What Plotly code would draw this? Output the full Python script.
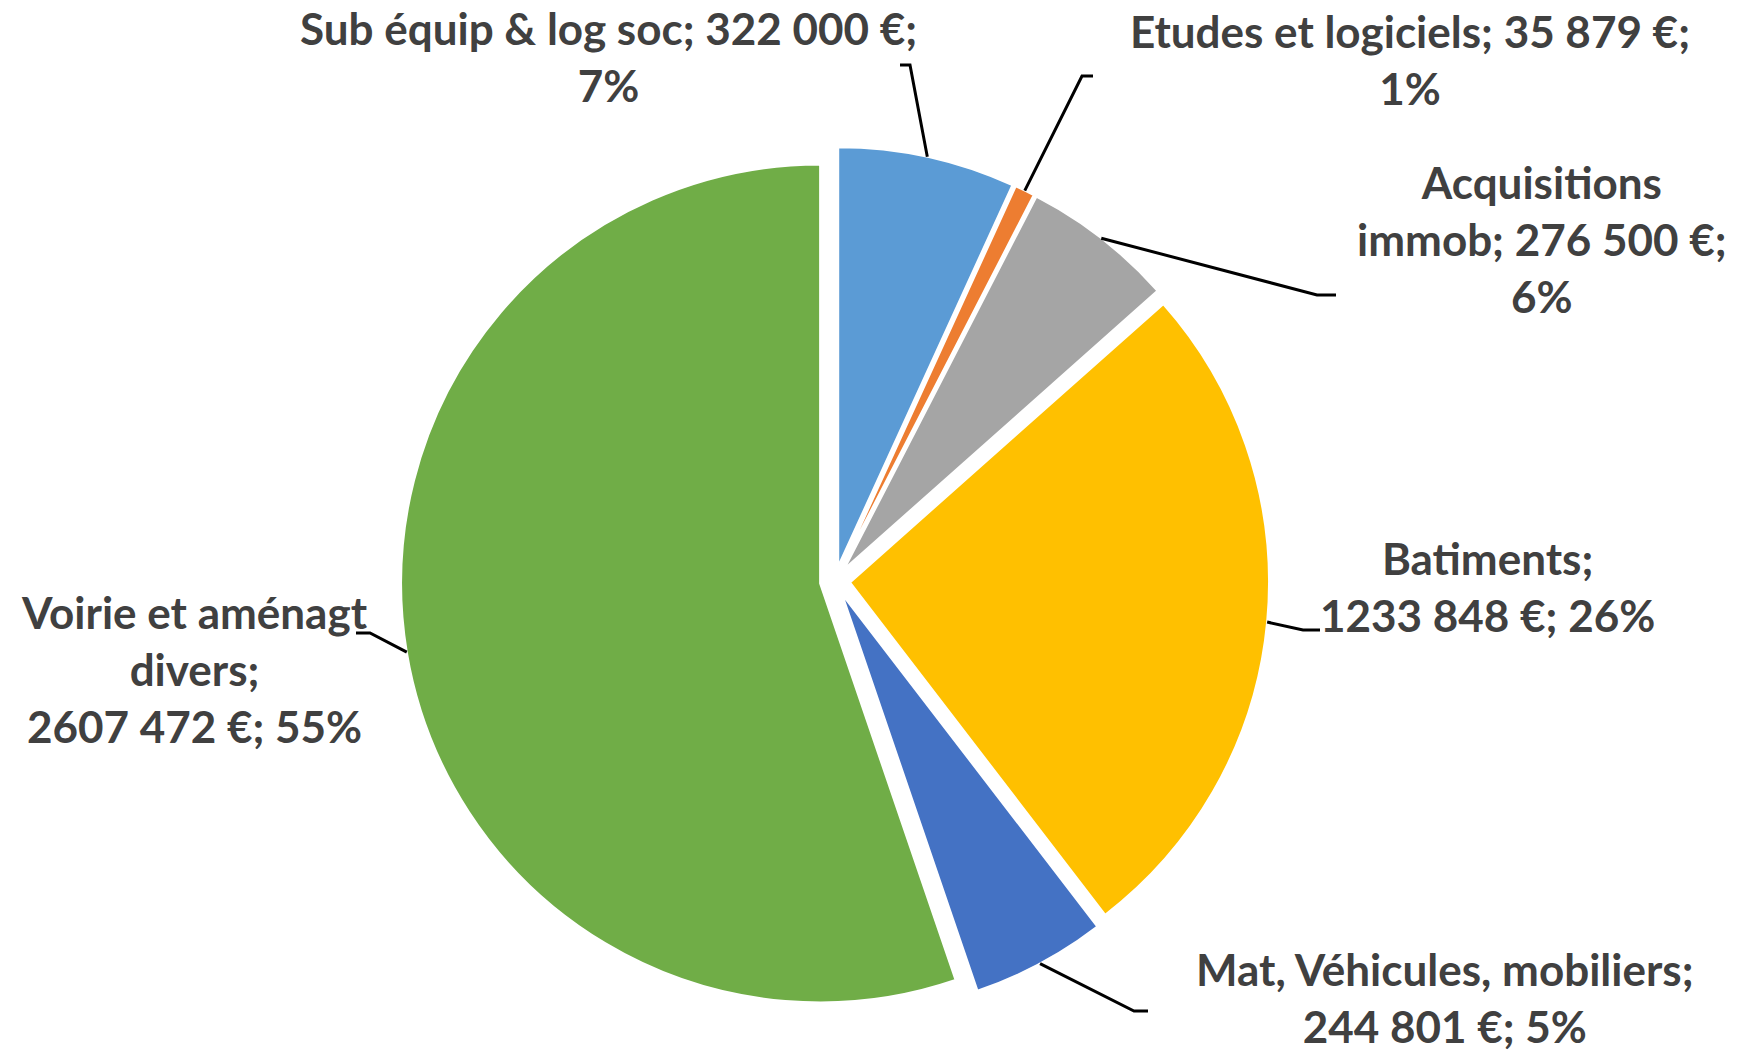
import math
import plotly.graph_objects as go

# ---- data ----
categories = ["Sub équip & log soc", "Etudes et logiciels", "Acquisitions immob",
              "Batiments", "Mat, Véhicules, mobiliers", "Voirie et aménagt divers"]
values = [322000, 35879, 276500, 1233848, 244801, 2607472]
label_texts = [
    "Sub équip & log soc; 322 000 €;<br>7%",
    "Etudes et logiciels; 35 879 €;<br>1%",
    "Acquisitions<br>immob; 276 500 €;<br>6%",
    "Batiments;<br>1233 848 €; 26%",
    "Mat, Véhicules, mobiliers;<br>244 801 €; 5%",
    "Voirie et aménagt<br>divers;<br>2607 472 €; 55%",
]
colors = ["#5B9BD5", "#ED7D31", "#A5A5A5", "#FFC000", "#4472C4", "#70AD47"]

# ---- layout constants (pixels) ----
W, H = 1757, 1056
CX, CY = 835, 581          # pie centre
R = 419                    # pie radius
PULL = 0.036
# label centres and leader elbow / end points
label_pos = [(608, 57), (1410, 60), (1542, 239), (1487, 586), (1445, 997), (194, 669)]
elbows = [((910, 65), (900, 65)), ((1082, 76), (1093, 76)), ((1317, 295), (1336, 295)),
          ((1303, 630), (1320, 630)), ((1134, 1011), (1148, 1011)), ((370, 633), (356, 633))]

half = R * (1 + PULL)
dom_x = [(CX - half) / W, (CX + half) / W]
dom_y = [(H - CY - half) / H, (H - CY + half) / H]

fig = go.Figure(go.Pie(
    labels=categories, values=values, sort=False, direction="clockwise", rotation=0,
    marker=dict(colors=colors, line=dict(color="white", width=2)),
    pull=[PULL] * len(values), textinfo="none", hoverinfo="label+value+percent",
    domain=dict(x=dom_x, y=dom_y), showlegend=False,
))

def px2paper(x, y):
    return x / W, 1 - y / H

total = sum(values)
cum = 0
shapes = []
annotations = []
for i, v in enumerate(values):
    mid = (cum + v / 2) / total * 2 * math.pi
    cum += v
    dx, dy = math.sin(mid), -math.cos(mid)
    sx, sy = CX + (R + R * PULL) * dx, CY + (R + R * PULL) * dy
    (ex, ey), (fx, fy) = elbows[i]
    pts = [px2paper(sx, sy), px2paper(ex, ey), px2paper(fx, fy)]
    path = "M {} {} L {} {} L {} {}".format(*[c for p in pts for c in p])
    shapes.append(dict(type="path", xref="paper", yref="paper", path=path,
                       line=dict(color="black", width=3)))
    lx, ly = px2paper(*label_pos[i])
    annotations.append(dict(x=lx, y=ly, xref="paper", yref="paper", text=label_texts[i],
                            showarrow=False, xanchor="center", yanchor="middle", align="center",
                            font=dict(family="Lato, Carlito, sans-serif", size=44,
                                      color="#404040", weight="bold")))

fig.update_layout(width=W, height=H, margin=dict(l=0, r=0, t=0, b=0),
                  paper_bgcolor="white", plot_bgcolor="white",
                  shapes=shapes, annotations=annotations)
fig.write_html("out.html", config={"displayModeBar": False},
               post_script="document.body.style.margin='0';document.body.style.overflow='hidden';")
